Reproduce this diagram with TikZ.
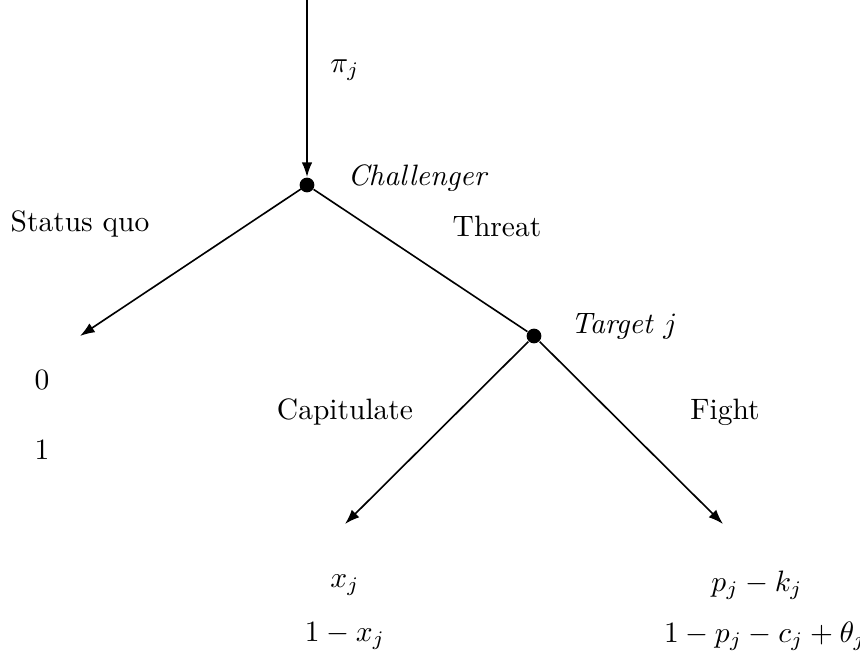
\documentclass[tikz,border=0pt]{standalone}
\usetikzlibrary{arrows.meta}
\begin{document}
\begin{tikzpicture}[x=0.339pt,y=-0.339pt,
  edge/.style={line width=0.55pt,-{Latex[length=5pt,width=3.6pt]}},
  dotnode/.style={circle,fill=black,inner sep=0pt,minimum size=5pt},
  lbl/.style={inner sep=0pt}]
\useasboundingbox (0,0) rectangle (860,658);
\coordinate (top) at (307,0);
\node[dotnode] (ch) at (307,185) {};
\node[dotnode] (tg) at (534,336) {};
\coordinate (sq) at (80,336);
\coordinate (cp) at (345,524);
\coordinate (fg) at (723,524);
\draw[edge] (top) -- (ch.north);
\draw[edge,shorten <=-1pt] (ch) -- (sq);
\draw[line width=0.55pt] (ch) -- (tg);
\draw[edge] (tg) -- (cp);
\draw[edge] (tg) -- (fg);
\node[lbl] (pi) at (345,70) {$\pi_j$};
\node[lbl] (chl) at (418,178) {\textit{Challenger}};
\node[lbl] (sql) at (80,224) {Status quo};
\node[lbl] (thl) at (497,226) {Threat};
\node[lbl] (tgl) at (624,327) {\textit{Target $j$}};
\node[lbl] (p1) at (42,380) {$0$};
\node[lbl] (p2) at (42,450) {$1$};
\node[lbl] (cpl) at (345,412) {Capitulate};
\node[lbl] (fgl) at (725,412) {Fight};
\node[lbl] (x1) at (345,585) {$x_j$};
\node[lbl] (x2) at (345,636) {$1-x_j$};
\node[lbl] (f1) at (757,585) {$p_j-k_j$};
\node[lbl] (f2) at (765,636) {$1-p_j-c_j+\theta_j$};
\end{tikzpicture}
\end{document}
